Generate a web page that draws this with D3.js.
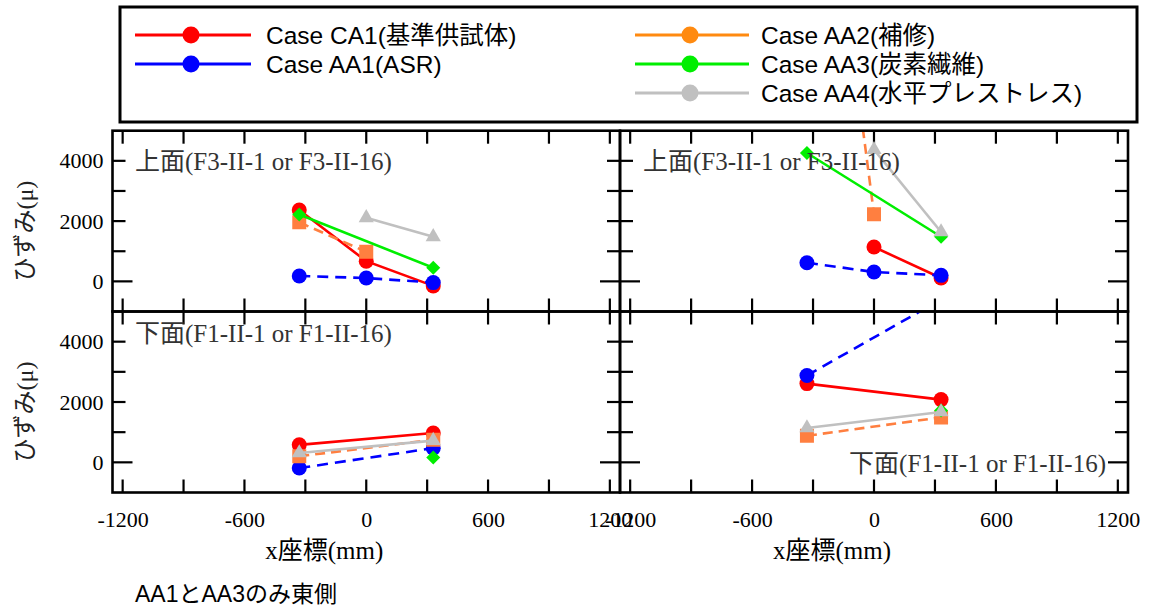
<!DOCTYPE html>
<html><head><meta charset="utf-8">
<script src="https://cdn.jsdelivr.net/npm/d3@7"></script>
<style>
html,body{margin:0;padding:0;background:#fff;}
svg{display:block;}
</style></head>
<body><svg id="chart" width="1151" height="609"></svg>
<script>
// ---------- data ----------
const caseNames = ["Case CA1(基準供試体)", "Case AA1(ASR)", "Case AA2(補修)", "Case AA3(炭素繊維)", "Case AA4(水平プレストレス)"];
const xPositions = [-330, 0, 330];
const xTickValues = [-1200, -600, 0, 600, 1200];
const yTickValues = [0, 2000, 4000];
const panelLabels = ["上面(F3-II-1 or F3-II-16)", "上面(F3-II-1 or F3-II-16)", "下面(F1-II-1 or F1-II-16)", "下面(F1-II-1 or F1-II-16)"];
const xTitle = "x座標(mm)";
const yTitle = "ひずみ(μ)";
const footNote = "AA1とAA3のみ東側";

// top-left panel
const CA1_topL = [2370, 670, -150];
const AA1_topL = [180, 110, -40];
const AA2_topL = [1960, 980, null];
const AA3_topL = [2220, null, 450];
const AA4_topL = [null, 2110, 1480];
// top-right panel
const CA1_topR = [null, 1140, 110];
const AA1_topR = [620, 310, 200];
const AA2_topR = [19300, 2230, null];
const AA3_topR = [4260, null, 1480];
const AA4_topR = [null, 4370, 1640];
// bottom-left panel
const CA1_botL = [580, null, 970];
const AA1_botL = [-190, null, 470];
const AA2_botL = [200, null, 750];
const AA3_botL = [null, null, 160];
const AA4_botL = [310, null, 720];
// bottom-right panel
const CA1_botR = [2610, null, 2080];
const AA1_botR = [2880, null, 5400];
const AA2_botR = [880, null, 1490];
const AA3_botR = [null, null, 1720];
const AA4_botR = [1140, null, 1670];

// ---------- styles ----------
const styles = [
  {color:"#ff0000", legend:"#ff0000", dash:null, marker:"circle"},
  {color:"#0000ff", legend:"#0000ff", dash:"11,7", marker:"circle"},
  {color:"#ff7f40", legend:"#ff8a10", dash:"10,6", marker:"square"},
  {color:"#00ee00", legend:"#00ee00", dash:null, marker:"diamond"},
  {color:"#c0c0c0", legend:"#c0c0c0", dash:null, marker:"triangle"}
];

const panels = [
  {x0:112.5, x1:620, y0:130.7, y1:311.5, series:[CA1_topL,AA1_topL,AA2_topL,AA3_topL,AA4_topL], label:panelLabels[0], left:true, bottom:false, lab:{x:135, y:170, anchor:"start"}},
  {x0:620, x1:1128, y0:130.7, y1:311.5, series:[CA1_topR,AA1_topR,AA2_topR,AA3_topR,AA4_topR], label:panelLabels[1], left:false, bottom:false, lab:{x:643, y:170, anchor:"start"}},
  {x0:112.5, x1:620, y0:311.5, y1:492.5, series:[CA1_botL,AA1_botL,AA2_botL,AA3_botL,AA4_botL], label:panelLabels[2], left:true, bottom:true, lab:{x:135, y:342, anchor:"start"}},
  {x0:620, x1:1128, y0:311.5, y1:492.5, series:[CA1_botR,AA1_botR,AA2_botR,AA3_botR,AA4_botR], label:panelLabels[3], left:false, bottom:true, lab:{x:1106, y:472, anchor:"end"}}
];

const svg = d3.select("#chart");
const serif = "'Liberation Serif','Times New Roman','Noto Sans CJK JP',serif";
const sans = "'Liberation Sans',Arial,'Noto Sans CJK JP',sans-serif";
const fmt = v => String(v);  // plain hyphen-minus like the reference

const symbolFor = {
  circle: d3.symbol().type(d3.symbolCircle).size(Math.PI*7.5*7.5),
  square: d3.symbol().type(d3.symbolSquare).size(14*14),
  diamond: "M0,-7L7,0L0,7L-7,0Z",
  triangle: d3.symbol().type(d3.symbolTriangle).size(100)
};

panels.forEach((p, pi) => {
  const x = d3.scaleLinear().domain([-1250, 1250]).range([p.x0, p.x1]);
  const y = d3.scaleLinear().domain([-1000, 5000]).range([p.y1, p.y0]);
  const g = svg.append("g");
  const clipId = "clip" + pi;
  svg.append("clipPath").attr("id", clipId).append("rect")
    .attr("x", p.x0).attr("y", p.y0).attr("width", p.x1 - p.x0).attr("height", p.y1 - p.y0);

  // ticks (inward, all four sides)
  const tg = g.append("g").attr("stroke", "#000").attr("stroke-width", 2.2);
  d3.range(-1200, 1201, 300).forEach(v => {
    tg.append("line").attr("x1", x(v)).attr("x2", x(v)).attr("y1", p.y1).attr("y2", p.y1 - 13);
    tg.append("line").attr("x1", x(v)).attr("x2", x(v)).attr("y1", p.y0).attr("y2", p.y0 + 13);
  });
  d3.range(0, 4001, 1000).forEach(v => {
    const len = v === 0 ? 20 : 13;
    tg.append("line").attr("x1", p.x0).attr("x2", p.x0 + len).attr("y1", y(v)).attr("y2", y(v));
    tg.append("line").attr("x1", p.x1).attr("x2", p.x1 - len).attr("y1", y(v)).attr("y2", y(v));
  });

  // axes labels
  if (p.bottom) {
    const ax = d3.axisBottom(x).tickValues(xTickValues).tickSize(0).tickPadding(0).tickFormat(fmt);
    const axg = g.append("g").attr("transform", `translate(0,${p.y1 + 27})`).call(ax);
    axg.select(".domain").remove();
    axg.selectAll("text").attr("font-family", serif).attr("font-size", 22).attr("fill", "#000").attr("dy", "0.35em").attr("y", 0);
    g.append("text").attr("x", (p.x0 + p.x1) / 2 - 42).attr("y", 559)
      .attr("text-anchor", "middle").attr("font-family", serif).attr("font-size", 25).text(xTitle);
  }
  if (p.left) {
    const ay = d3.axisLeft(y).tickValues(yTickValues).tickSize(0).tickPadding(0).tickFormat(fmt);
    const ayg = g.append("g").attr("transform", `translate(${p.x0 - 9},0)`).call(ay);
    ayg.select(".domain").remove();
    ayg.selectAll("text").attr("font-family", serif).attr("font-size", 22).attr("fill", "#000");
    g.append("text").attr("transform", `translate(33,${(p.y0 + p.y1) / 2 + 10}) rotate(-90)`)
      .attr("text-anchor", "middle").attr("font-family", serif).attr("font-size", 24).attr("fill", "#222").text(yTitle);
  }

  // series
  const line = d3.line().x(d => x(d.x)).y(d => y(d.y));
  p.series.forEach((vals, si) => {
    const st = styles[si];
    const pts = vals.map((v, i) => ({x: xPositions[i], y: v})).filter(d => d.y !== null);
    if (pts.length > 1) {
      g.append("path").datum(pts).attr("d", line).attr("fill", "none")
        .attr("stroke", st.color).attr("stroke-width", 2.6)
        .attr("stroke-dasharray", st.dash).attr("clip-path", `url(#${clipId})`);
    }
    g.append("g").attr("clip-path", `url(#${clipId})`).selectAll("path.m").data(pts).join("path")
      .attr("d", symbolFor[st.marker])
      .attr("transform", d => `translate(${x(d.x)},${y(d.y)})`)
      .attr("fill", st.color);
  });

  // panel label
  g.append("text").attr("x", p.lab.x).attr("y", p.lab.y).attr("text-anchor", p.lab.anchor)
    .attr("font-family", serif).attr("font-size", 25).attr("fill", "#333").text(p.label);

  // frame
  g.append("rect").attr("x", p.x0).attr("y", p.y0).attr("width", p.x1 - p.x0).attr("height", p.y1 - p.y0)
    .attr("fill", "none").attr("stroke", "#000").attr("stroke-width", 2.6);
});

// legend
const lg = svg.append("g");
lg.append("rect").attr("x", 120).attr("y", 7).attr("width", 1017).attr("height", 115)
  .attr("fill", "#fff").attr("stroke", "#000").attr("stroke-width", 3);
const legendPos = [
  {lx0:135, lx1:251, cx:191, tx:266, y:35},
  {lx0:135, lx1:251, cx:191, tx:266, y:64},
  {lx0:635, lx1:749, cx:690, tx:761, y:35},
  {lx0:635, lx1:749, cx:690, tx:761, y:64},
  {lx0:635, lx1:749, cx:690, tx:761, y:93}
];
caseNames.forEach((name, i) => {
  const lp = legendPos[i];
  lg.append("line").attr("x1", lp.lx0).attr("x2", lp.lx1).attr("y1", lp.y).attr("y2", lp.y)
    .attr("stroke", styles[i].legend).attr("stroke-width", 3);
  lg.append("circle").attr("cx", lp.cx).attr("cy", lp.y).attr("r", 8.5).attr("fill", styles[i].legend);
  lg.append("text").attr("x", lp.tx).attr("y", lp.y + 8.5).attr("font-family", sans).attr("font-size", 24.5)
    .attr("fill", "#000").text(name);
});

svg.append("text").attr("x", 135).attr("y", 602).attr("font-family", sans).attr("font-size", 23)
  .attr("fill", "#000").text(footNote);
</script>
</body></html>
